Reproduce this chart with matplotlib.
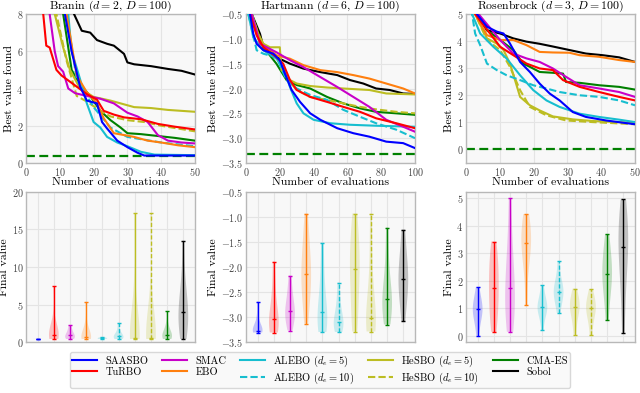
"""Best-value curves and final-value violins for three test problems."""
import matplotlib
matplotlib.use("Agg")
import matplotlib.pyplot as plt
import numpy as np

plt.rcParams.update({
    "font.family": "serif",
    "font.serif": ["cmr10"],
    "mathtext.fontset": "cm",
    "axes.formatter.use_mathtext": True,
    "axes.unicode_minus": True,
})

METHODS = ["SAASBO", "TuRBO", "SMAC", "EBO", "ALEBO5", "ALEBO10",
           "HeSBO5", "HeSBO10", "CMA-ES", "Sobol"]
LABELS = ["SAASBO", "TuRBO", "SMAC", "EBO", r"ALEBO ($d_e=5$)", r"ALEBO ($d_e=10$)",
          r"HeSBO ($d_e=5$)", r"HeSBO ($d_e=10$)", "CMA-ES", "Sobol"]
COLORS = ["#0000ff", "#ff0000", "#c800c8", "#ff7f0e", "#17becf", "#17becf",
          "#bcbd22", "#bcbd22", "#008000", "#000000"]
DASHED = ["ALEBO10", "HeSBO10"]

TITLES = [r"Branin ($d=2$, $D=100$)", r"Hartmann ($d=6$, $D=100$)",
          r"Rosenbrock ($d=3$, $D=100$)"]
OPTIMA = [0.398, -3.322, 0.0]

# best value found vs. number of evaluations: (x, y) per method
branin = {
    "SAASBO": ([11, 11.5, 13.5, 16, 18, 21, 22.5, 24, 27, 30, 33, 35, 40, 50],
               [9, 8, 6.0, 4.1, 3.35, 3.2, 2.2, 1.85, 1.2, 0.85, 0.55, 0.4, 0.4, 0.4]),
    "TuRBO": ([5, 5.1, 6, 7, 8, 9, 10.5, 12, 15, 18, 21, 23, 26, 29, 34, 39, 44, 50],
              [9, 8, 6.3, 6.2, 5.6, 5.0, 4.7, 4.5, 4.1, 3.7, 3.4, 2.8, 2.6, 2.45, 2.35, 2.1, 1.95, 1.8]),
    "SMAC": ([6.5, 7, 8.5, 9.5, 11, 12.5, 14.5, 18, 22, 26, 30, 33, 36, 39, 42, 46, 50],
             [9, 8, 6.0, 5.2, 4.9, 4.0, 3.75, 3.6, 3.45, 3.2, 2.7, 2.5, 2.2, 1.5, 1.2, 1.1, 1.05]),
    "EBO": ([11, 12, 15, 18, 21, 23, 26, 29, 32, 36, 40, 45, 50],
            [9, 8, 4.7, 3.8, 3.2, 2.4, 1.6, 1.5, 1.4, 1.2, 1.1, 0.95, 0.85]),
    "ALEBO5": ([12, 12.5, 13.5, 16, 18, 20, 22, 24, 27, 30, 34, 38, 50],
               [9, 8, 6.0, 4.5, 3.2, 2.2, 1.9, 1.4, 1.1, 0.9, 0.6, 0.45, 0.42]),
    "ALEBO10": ([11, 12, 15, 20, 25, 30, 35, 40, 45, 50],
                [9, 8, 4.5, 3.0, 1.9, 1.4, 1.25, 1.1, 1.0, 0.9]),
    "HeSBO5": ([8, 8.5, 11, 13, 16, 20, 25, 28, 32, 37, 42, 50],
               [9, 8, 6.2, 5.0, 4.0, 3.55, 3.35, 3.2, 3.0, 2.95, 2.85, 2.75]),
    "HeSBO10": ([8.5, 9, 12, 15, 18, 22, 25, 30, 35, 40, 45, 50],
                [9, 8, 5.5, 3.6, 3.3, 2.8, 2.5, 2.3, 2.2, 2.0, 1.85, 1.7]),
    "CMA-ES": ([10.5, 11, 12.5, 13.5, 16, 19, 22, 25, 28, 30, 34, 39, 44, 50],
               [9, 8, 6.2, 5.0, 4.2, 3.6, 2.8, 2.3, 1.9, 1.6, 1.55, 1.45, 1.35, 1.2]),
    "Sobol": ([13.5, 14.2, 16.5, 19, 21, 24, 26, 29, 30, 32, 37, 42, 46, 50],
              [9, 8, 7.1, 7.0, 6.6, 6.4, 6.3, 5.86, 5.4, 5.3, 5.2, 5.05, 4.95, 4.75]),
}

hartmann = {
    "SAASBO": ([0, 2.4, 4.3, 6.3, 10.3, 16.2, 20, 23, 27, 32, 38, 44, 54, 63.5, 73, 83, 93, 100],
               [-0.3, -0.5, -0.9, -1.1, -1.23, -1.3, -1.43, -1.7, -2.03, -2.27, -2.5, -2.63,
                -2.8, -2.9, -2.97, -3.07, -3.1, -3.2]),
    "TuRBO": ([0, 2.4, 6.3, 10.3, 18, 22, 26, 30, 38, 48, 57.6, 67.5, 77, 89, 100],
              [-0.3, -0.5, -0.93, -1.17, -1.37, -1.5, -1.83, -2.03, -2.17, -2.27, -2.37,
               -2.47, -2.6, -2.7, -2.8]),
    "SMAC": ([0, 3.4, 8.3, 18, 26, 34, 44, 54, 63.5, 73, 83, 93, 100],
             [-0.3, -0.5, -1.1, -1.27, -1.43, -1.57, -1.77, -1.97, -2.17, -2.37, -2.63,
              -2.77, -2.87]),
    "EBO": ([0, 2.4, 8.3, 14.2, 18, 26, 34, 44, 54, 63.5, 73, 83, 93, 100],
            [-0.3, -0.5, -1.1, -1.23, -1.33, -1.4, -1.53, -1.63, -1.67, -1.73, -1.8, -1.9,
             -2.0, -2.1]),
    "ALEBO5": ([0, 1.4, 4.3, 10.3, 18, 22, 26, 30, 34, 40, 50, 61.5, 77, 100],
               [-0.3, -0.5, -0.97, -1.23, -1.4, -1.57, -1.97, -2.3, -2.5, -2.63, -2.7, -2.73,
                -2.75, -2.77]),
    "ALEBO10": ([0, 1.4, 6.3, 10.3, 18, 24, 30, 38, 48, 57.6, 67.5, 77, 89, 100],
                [-0.3, -0.5, -1.23, -1.3, -1.37, -1.83, -2.0, -2.13, -2.23, -2.43, -2.57,
                 -2.7, -2.83, -3.0]),
    "HeSBO5": ([0, 3.4, 7.3, 10.3, 14.2, 20, 21, 26, 30, 38, 48, 57.6, 73, 83, 100],
               [-0.3, -0.5, -0.9, -1.1, -1.17, -1.17, -1.63, -1.83, -1.9, -1.95, -1.98, -2.0,
                -2.03, -2.1, -2.12]),
    "HeSBO10": ([0, 3.4, 8.3, 18, 26, 30, 38, 48, 57.6, 67.5, 77, 89, 100],
                [-0.3, -0.5, -1.03, -1.37, -1.87, -2.03, -2.17, -2.23, -2.3, -2.37, -2.42,
                 -2.47, -2.5]),
    "CMA-ES": ([0, 3.4, 7.3, 10.3, 18, 24, 30, 38, 48, 57.6, 67.5, 77, 89, 100],
               [-0.3, -0.5, -0.97, -1.17, -1.5, -1.83, -1.93, -2.0, -2.17, -2.3, -2.4,
                -2.47, -2.5, -2.53]),
    "Sobol": ([0, 3.4, 8.3, 10.3, 18, 26, 34, 44, 54, 61.5, 69.4, 77, 85, 93, 100],
              [-0.3, -0.5, -0.9, -1.17, -1.37, -1.5, -1.6, -1.67, -1.73, -1.83, -1.9, -2.0,
               -2.03, -2.1, -2.11]),
}

rosenbrock = {
    "SAASBO": ([1, 3.2, 6.2, 9.1, 11.1, 13, 16, 18.9, 21.8, 24.8, 27.7, 31.6, 35.5, 41.4, 50],
               [5.6, 5, 4.53, 4.35, 4.28, 3.91, 3.23, 2.86, 2.43, 2.06, 1.81, 1.38, 1.2, 1.07, 0.93]),
    "TuRBO": ([1, 2.7, 10.1, 14, 17.9, 21.8, 25.7, 28.7, 33.6, 39.4, 45.3, 50],
              [5.6, 5, 3.79, 3.48, 3.17, 2.99, 2.93, 2.56, 2.31, 2.12, 1.94, 1.81]),
    "SMAC": ([1, 3.7, 10.1, 14, 17.9, 21.8, 25.7, 29.6, 33.6, 39.4, 45.3, 50],
             [5.6, 5, 4.04, 3.54, 3.36, 3.23, 2.99, 2.68, 2.37, 2.25, 2.12, 1.94]),
    "EBO": ([1, 2.7, 6.2, 10.1, 14, 17.9, 21.8, 25.7, 30.6, 33.6, 39.4, 45.3, 50],
            [5.6, 5, 4.22, 4.04, 4.04, 3.85, 3.6, 3.58, 3.57, 3.48, 3.42, 3.3, 3.23]),
    "ALEBO5": ([0.5, 1.8, 4.2, 8.1, 12, 16, 19.9, 23.8, 27.7, 33.6, 39.4, 45.3, 50],
               [5.6, 5, 4.28, 3.79, 3.36, 2.74, 2.19, 1.81, 1.57, 1.32, 1.2, 1.1, 1.01]),
    "ALEBO10": ([0.5, 1.8, 2.7, 4.2, 6.2, 9.1, 12, 16, 19.9, 23.8, 27.7, 33.6, 39.4, 45.3, 50],
                [5.6, 5, 4.28, 3.85, 3.17, 2.93, 2.74, 2.56, 2.37, 2.25, 2.12, 2.0, 1.94,
                 1.81, 1.63]),
    "HeSBO5": ([1, 2.7, 6.2, 9.1, 11.1, 13, 14.5, 16, 18.9, 21.8, 25.7, 31.6, 37.5, 50],
               [5.6, 5, 4.1, 3.91, 3.67, 3.17, 2.56, 1.94, 1.63, 1.44, 1.22, 1.11, 1.05, 0.98]),
    "HeSBO10": ([1, 2.7, 6.2, 10.1, 13, 16, 18.9, 23.8, 29.6, 37.5, 50],
                [5.6, 5, 4.04, 3.67, 3.05, 2.19, 1.57, 1.26, 1.07, 1.01, 0.93]),
    "CMA-ES": ([1, 3.7, 6.2, 10.1, 14, 16.9, 18.9, 21.8, 25.7, 28.7, 29.6, 33.6, 39.4, 45.3, 50],
               [5.6, 5, 4.4, 4.04, 3.67, 3.17, 3.05, 2.86, 2.83, 2.8, 2.49, 2.46, 2.37, 2.31, 2.21]),
    "Sobol": ([1, 3.2, 6.2, 10.1, 14, 17.9, 21.8, 25.7, 30.6, 35.5, 40.4, 45.3, 50],
              [5.6, 5, 4.4, 4.28, 4.1, 3.98, 3.9, 3.8, 3.67, 3.54, 3.48, 3.4, 3.23]),
}

# final values per run (one list per method, same order as METHODS)
branin_final = [
    [0.398, 0.398, 0.399, 0.4, 0.4, 0.401, 0.402, 0.405, 0.41, 0.42, 0.45],
    [0.4, 0.45, 0.5, 0.6, 0.8, 0.9, 1.1, 1.5, 2.0, 2.6, 7.47],
    [0.4, 0.45, 0.5, 0.6, 0.8, 0.9, 1.0, 1.2, 1.5, 1.8, 2.24],
    [0.4, 0.42, 0.45, 0.5, 0.55, 0.63, 0.8, 1.0, 1.5, 2.5, 5.37],
    [0.4, 0.41, 0.42, 0.44, 0.47, 0.5, 0.52, 0.55, 0.58, 0.6, 0.63],
    [0.4, 0.45, 0.5, 0.6, 0.7, 0.76, 0.85, 1.0, 1.3, 1.8, 2.55],
    [0.4, 0.4, 0.41, 0.42, 0.45, 0.5, 0.8, 1.5, 3.0, 6.0, 17.2],
    [0.4, 0.4, 0.41, 0.43, 0.46, 0.5, 0.9, 1.6, 2.8, 5.5, 17.2],
    [0.4, 0.45, 0.55, 0.65, 0.8, 0.9, 1.0, 1.3, 1.7, 2.3, 4.1],
    [0.4, 1.2, 2.0, 2.8, 3.4, 4.0, 4.8, 5.8, 7.0, 9.0, 13.5],
]
hartmann_final = [
    [-3.31, -3.3, -3.29, -3.28, -3.28, -3.27, -3.25, -3.22, -3.15, -3.0, -2.69],
    [-3.31, -3.28, -3.22, -3.16, -3.1, -3.04, -2.95, -2.8, -2.6, -2.3, -1.89],
    [-3.27, -3.15, -3.05, -2.98, -2.92, -2.87, -2.8, -2.7, -2.55, -2.4, -2.17],
    [-3.13, -2.8, -2.55, -2.4, -2.25, -2.13, -1.95, -1.8, -1.6, -1.3, -0.93],
    [-3.3, -3.25, -3.2, -3.1, -3.0, -2.9, -2.75, -2.55, -2.3, -1.9, -1.51],
    [-3.3, -3.25, -3.2, -3.15, -3.12, -3.09, -3.0, -2.9, -2.75, -2.55, -2.31],
    [-3.29, -3.1, -2.8, -2.5, -2.2, -2.04, -1.9, -1.7, -1.5, -1.2, -0.93],
    [-3.29, -3.25, -3.2, -3.15, -3.08, -3.01, -2.85, -2.6, -2.2, -1.6, -0.93],
    [-3.15, -3.0, -2.9, -2.8, -2.7, -2.64, -2.5, -2.35, -2.1, -1.7, -1.21],
    [-3.08, -2.8, -2.6, -2.45, -2.32, -2.23, -2.1, -1.95, -1.8, -1.55, -1.25],
]
rosenbrock_final = [
    [0.01, 0.4, 0.6, 0.75, 0.88, 0.97, 1.05, 1.15, 1.3, 1.5, 1.78],
    [0.15, 0.5, 0.9, 1.2, 1.5, 1.76, 2.1, 2.4, 2.7, 3.0, 3.43],
    [0.15, 0.5, 0.8, 1.1, 1.4, 1.76, 2.1, 2.5, 3.0, 3.8, 5.0],
    [1.12, 2.2, 2.7, 3.0, 3.2, 3.39, 3.55, 3.75, 3.95, 4.2, 4.43],
    [0.21, 0.6, 0.8, 0.9, 1.0, 1.05, 1.1, 1.2, 1.35, 1.55, 1.85],
    [0.84, 1.1, 1.3, 1.45, 1.55, 1.61, 1.7, 1.8, 1.95, 2.2, 2.71],
    [0.05, 0.4, 0.7, 0.85, 0.95, 1.05, 1.15, 1.25, 1.35, 1.5, 1.72],
    [0.02, 0.4, 0.65, 0.8, 0.92, 1.0, 1.1, 1.2, 1.3, 1.45, 1.69],
    [0.57, 1.2, 1.6, 1.9, 2.1, 2.26, 2.45, 2.7, 2.95, 3.3, 3.7],
    [0.12, 1.2, 2.0, 2.5, 2.9, 3.24, 3.5, 3.8, 4.1, 4.5, 4.96],
]

curves = [branin, hartmann, rosenbrock]
finals = [branin_final, hartmann_final, rosenbrock_final]
top_xlim = [(0, 50), (0, 100), (0, 50)]
top_ylim = [(0, 8), (-3.5, -0.5), (-0.5, 5)]
top_xticks = [range(0, 51, 10), range(0, 101, 20), range(0, 51, 10)]
top_yticks = [range(0, 9, 2), np.arange(-3.5, -0.4, 0.5), range(0, 6)]
bot_ylim = [(0, 20), (-3.5, -0.5), (-0.22, 5.23)]
bot_yticks = [range(0, 21, 5), np.arange(-3.5, -0.4, 0.5), range(0, 6)]

BG = "#f8f8f8"
GRID = "#e4e4e4"
SPINE = "#b8b8b8"
TICK = "#444444"
FS = 8.5


def style(ax):
    ax.set_facecolor(BG)
    ax.grid(True, color=GRID, linewidth=0.8)
    ax.set_axisbelow(True)
    for s in ax.spines.values():
        s.set_color(SPINE)
        s.set_linewidth(1.0)
    ax.tick_params(length=0, pad=2, labelsize=7.3, labelcolor=TICK)


fig = plt.figure(figsize=(6.4, 3.93), dpi=100)
lefts = [26 / 640, 246 / 640, 466 / 640]
W, H = 169 / 640, 149 / 393
handles = []

for k in range(3):
    ax = fig.add_axes([lefts[k], 1 - 163 / 393, W, H])
    style(ax)
    for i, m in enumerate(METHODS):
        xs, ys = curves[k][m]
        ls = (0, (3.5, 1.5)) if m in DASHED else "-"
        h, = ax.plot(xs, ys, color=COLORS[i], linestyle=ls, linewidth=1.5,
                     label=LABELS[i], zorder=3 + (9 - i) * 0.1)
        if k == 0:
            handles.append(h)
    ax.axhline(OPTIMA[k], color="#008000", linestyle=(0, (4, 2)), linewidth=1.6, zorder=2)
    ax.set_xlim(*top_xlim[k])
    ax.set_ylim(*top_ylim[k])
    ax.set_xticks(list(top_xticks[k]))
    ax.set_yticks(list(top_yticks[k]))
    ax.set_title(TITLES[k], fontsize=FS, pad=1.5)
    ax.set_xlabel("Number of evaluations", fontsize=FS, labelpad=0)
    ax.set_ylabel("Best value found", fontsize=FS, labelpad=2)

    bx = fig.add_axes([lefts[k], 1 - 342 / 393, W, 150 / 393])
    style(bx)
    pos = np.arange(1, 11)
    parts = bx.violinplot(finals[k], positions=pos, widths=0.6,
                          showextrema=False, showmedians=False)
    for i, body in enumerate(parts["bodies"]):
        body.set_facecolor(COLORS[i])
        body.set_edgecolor("none")
        body.set_alpha(0.22)
    for i, vals in enumerate(finals[k]):
        ls = (0, (3, 1.5)) if METHODS[i] in DASHED else "-"
        lo, hi, med = min(vals), max(vals), float(np.median(vals))
        bx.vlines(pos[i], lo, hi, color=COLORS[i], linewidth=1.0, linestyle=ls)
        bx.hlines([lo, hi, med], pos[i] - 0.12, pos[i] + 0.12,
                  color=COLORS[i], linewidth=1.0)
    bx.set_xlim(0.28, 10.72)
    bx.set_ylim(*bot_ylim[k])
    bx.set_xticks(pos)
    bx.set_xticklabels([])
    bx.set_yticks(list(bot_yticks[k]))
    bx.set_ylabel("Final value", fontsize=FS, labelpad=2)

fig.legend(handles=handles, loc="lower center", bbox_to_anchor=(0.5, 0.0), ncol=5,
           fontsize=7.5, frameon=True, facecolor=BG, edgecolor="#d0d0d0",
           handlelength=2.4, columnspacing=1.3, labelspacing=0.15,
           borderpad=0.2, handletextpad=0.8, fancybox=True)

fig.savefig("out.png", dpi=100)
